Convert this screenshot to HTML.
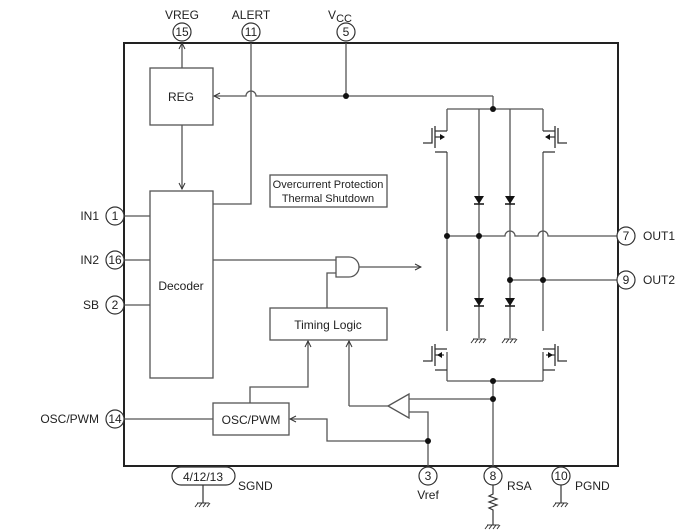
<!DOCTYPE html>
<html><head><style>body{margin:0;background:#fff}svg{display:block}text{font-family:"Liberation Sans",sans-serif;fill:#222}</style></head><body>
<svg width="692" height="532" viewBox="0 0 692 532" xmlns="http://www.w3.org/2000/svg">
<defs>
<marker id="a" markerWidth="8" markerHeight="8" refX="7" refY="4" orient="auto" markerUnits="userSpaceOnUse"><path d="M1,1 L7,4 L1,7" fill="none" stroke="#333" stroke-width="1"/></marker>
<g id="gnd"><path d="M-6,0 H6 M-5,0 L-8,4 M-1,0 L-4,4 M3,0 L0,4 M7,0 L4,4" stroke="#333" fill="none"/></g>
<g id="dio"><path d="M-5,-4 H5 L0,4 Z" fill="#111"/><path d="M-5,4 H5" stroke="#111" stroke-width="1.5"/></g>
</defs>
<g fill="none" stroke="#555" stroke-width="1.3">
<rect x="124" y="43" width="494" height="423" stroke="#222" stroke-width="2"/>
<rect x="150" y="68" width="63" height="57"/>
<rect x="150" y="191" width="63" height="187"/>
<rect x="270" y="175" width="117" height="32"/>
<rect x="270" y="308" width="117" height="32"/>
<rect x="213" y="403" width="76" height="32"/>
<path d="M182,68 V43" marker-end="url(#a)"/>
<path d="M251,43 V204 H213"/>
<path d="M346,43 V96"/>
<path d="M493,96 H256 A5,5 0 0 0 246,96 H214" marker-end="url(#a)"/>
<path d="M493,96 V109"/>
<path d="M182,125 V189" marker-end="url(#a)"/>
<path d="M124,216 H150 M124,260 H150 M124,305 H150 M124,419 H213"/>
<path d="M213,260 H336"/>
<path d="M336,257 V277 H349 A10,10 0 0 0 349,257 Z"/>
<path d="M359,267 H421" marker-end="url(#a)"/>
<path d="M327,308 V273 H336"/>
<path d="M250,403 V387 H308 V341" marker-end="url(#a)"/>
<path d="M349,406 V341" marker-end="url(#a)"/>
<path d="M388,406 L409,394 V418 Z"/>
<path d="M388,406 H349"/>
<path d="M409,399 H493 M409,412 H428 V466"/>
<path d="M428,441 H327 V419 H290" marker-end="url(#a)"/>
<path d="M493,381 V466"/>
<path d="M447,109 H543 M447,381 H543"/>
<path d="M447,109 V131 M447,152 V331 M447,352 V381"/>
<path d="M543,109 V131 M543,152 V331 M543,352 V381"/>
<path d="M479,109 V338 M510,109 V338"/>
<path d="M447,236 H505 A5,5 0 0 1 515,236 H538 A5,5 0 0 1 548,236 H618"/>
<path d="M510,280 H618"/>
</g>
<g stroke="#333" fill="none" stroke-width="1.3">
<g id="mL"><path d="M423,143 H432 V128 M435,126 V148 M435,131 H447 M435,152 H447 M435,137 H444"/></g>
<use href="#mL" transform="translate(0,218)"/>
<g transform="translate(990,0) scale(-1,1)"><path d="M423,143 H432 V128 M435,126 V148 M435,131 H447 M435,152 H447 M435,137 H444"/></g>
<g transform="translate(990,218) scale(-1,1)"><path d="M423,143 H432 V128 M435,126 V148 M435,131 H447 M435,152 H447 M435,137 H444"/></g>
</g>
<g fill="#111"><path d="M445,137 L440,134 V140Z"/><path d="M437,355 L442,352 V358Z"/><path d="M545,137 L550,134 V140Z"/><path d="M553,355 L548,352 V358Z"/></g>
<use href="#dio" x="479" y="200"/><use href="#dio" x="510" y="200"/>
<use href="#dio" x="479" y="302"/><use href="#dio" x="510" y="302"/>
<use href="#gnd" x="479" y="339"/><use href="#gnd" x="510" y="339"/>
<g fill="#111"><circle cx="346" cy="96" r="3"/><circle cx="493" cy="109" r="3"/><circle cx="493" cy="381" r="3"/><circle cx="447" cy="236" r="3"/><circle cx="479" cy="236" r="3"/><circle cx="510" cy="280" r="3"/><circle cx="543" cy="280" r="3"/><circle cx="493" cy="399" r="3"/><circle cx="428" cy="441" r="3"/></g>
<g fill="#fff" stroke="#333" stroke-width="1.2">
<circle cx="182" cy="32" r="9"/><circle cx="251" cy="32" r="9"/><circle cx="346" cy="32" r="9"/>
<circle cx="115" cy="216" r="9"/><circle cx="115" cy="260" r="9"/><circle cx="115" cy="305" r="9"/><circle cx="115" cy="419" r="9"/>
<circle cx="626" cy="236" r="9"/><circle cx="626" cy="280" r="9"/>
<circle cx="428" cy="476" r="9"/><circle cx="493" cy="476" r="9"/><circle cx="561" cy="476" r="9"/>
<rect x="172" y="467" width="63" height="18" rx="9"/>
</g>
<g stroke="#333" fill="none" stroke-width="1.2">
<path d="M203,485 V503 M561,485 V503 M493,485 V494 L489,496 L497,499 L489,502 L497,505 L489,508 L493,510 V525"/>
</g>
<use href="#gnd" x="203" y="503"/><use href="#gnd" x="561" y="503"/><use href="#gnd" x="493" y="525"/>
<g font-size="12" text-anchor="middle">
<text x="182" y="36">15</text><text x="251" y="36">11</text><text x="346" y="36">5</text>
<text x="115" y="220">1</text><text x="115" y="264">16</text><text x="115" y="309">2</text><text x="115" y="423">14</text>
<text x="626" y="240">7</text><text x="626" y="284">9</text>
<text x="428" y="480">3</text><text x="493" y="480">8</text><text x="561" y="480">10</text>
<text x="203" y="481">4/12/13</text>
<text x="182" y="19">VREG</text><text x="251" y="19">ALERT</text>
<text x="340" y="19">V<tspan font-size="11" dy="3">CC</tspan></text>
<text x="181" y="101">REG</text><text x="181" y="290">Decoder</text>
<text x="328" y="329">Timing Logic</text><text x="251" y="424">OSC/PWM</text>
<text x="428" y="499">Vref</text>
</g>
<g font-size="11" text-anchor="middle"><text x="328" y="188">Overcurrent Protection</text><text x="328" y="202">Thermal Shutdown</text></g>
<g font-size="12" text-anchor="end"><text x="99" y="220">IN1</text><text x="99" y="264">IN2</text><text x="99" y="309">SB</text><text x="99" y="423">OSC/PWM</text></g>
<g font-size="12"><text x="643" y="240">OUT1</text><text x="643" y="284">OUT2</text><text x="238" y="490">SGND</text><text x="507" y="490">RSA</text><text x="575" y="490">PGND</text></g>
</svg>
</body></html>
